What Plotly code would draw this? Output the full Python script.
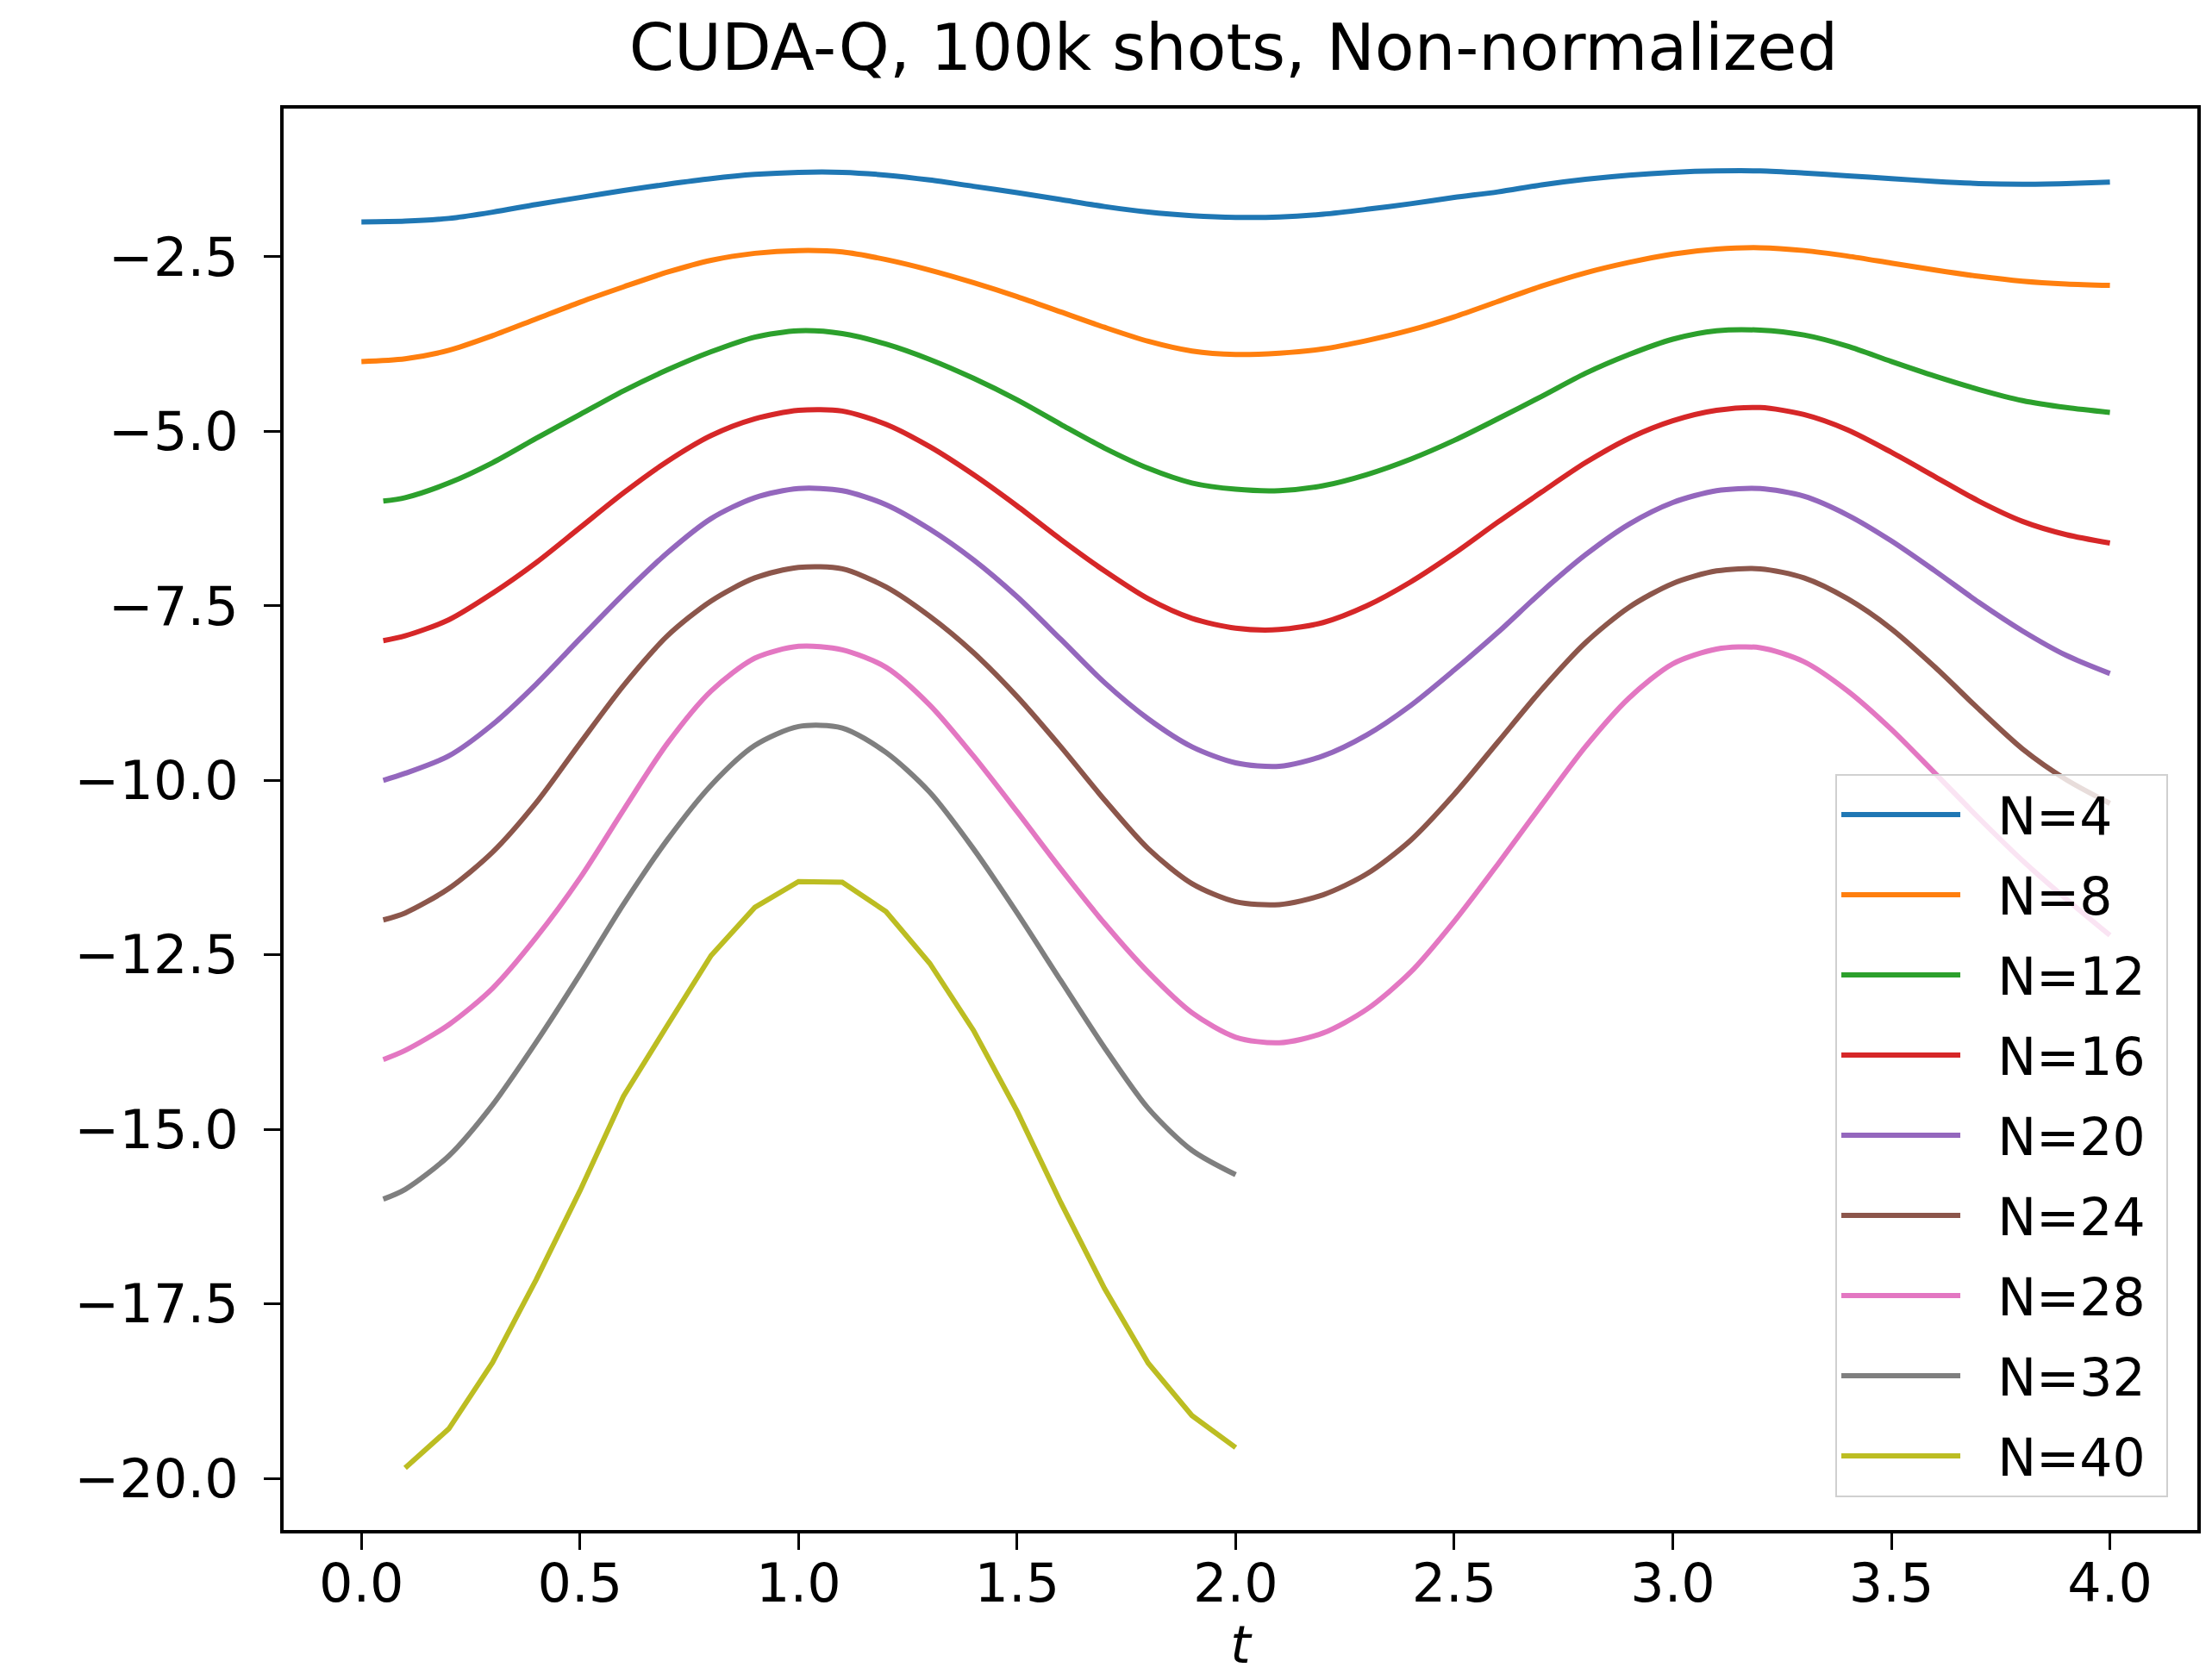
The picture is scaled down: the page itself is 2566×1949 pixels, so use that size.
import plotly.graph_objects as go

# ---- data ----
t_full = [round(0.1 * i, 1) for i in range(0, 41)]          # 0.0 .. 4.0
t_late = [0.05] + [round(0.1 * i, 1) for i in range(1, 41)]  # 0.05, 0.1 .. 4.0
t_half = [0.05] + [round(0.1 * i, 1) for i in range(1, 21)]  # 0.05, 0.1 .. 2.0
t_n40 = [round(0.1 * i, 1) for i in range(1, 21)]            # 0.1 .. 2.0

n4 = [-2.00, -1.99, -1.95, -1.86, -1.75, -1.65, -1.55, -1.46, -1.38, -1.32, -1.29,
      -1.29, -1.33, -1.40, -1.49, -1.58, -1.68, -1.78, -1.86, -1.91, -1.935,
      -1.93, -1.89, -1.82, -1.74, -1.65, -1.57, -1.47, -1.39, -1.33, -1.29,
      -1.27, -1.27, -1.30, -1.34, -1.38, -1.42, -1.45, -1.46, -1.45, -1.43]
n8 = [-4.00, -3.96, -3.84, -3.63, -3.39, -3.15, -2.93, -2.72, -2.55, -2.45, -2.41,
      -2.43, -2.54, -2.69, -2.87, -3.07, -3.29, -3.51, -3.71, -3.85, -3.90,
      -3.88, -3.82, -3.70, -3.55, -3.36, -3.14, -2.92, -2.73, -2.58, -2.46,
      -2.39, -2.37, -2.41, -2.49, -2.59, -2.69, -2.78, -2.85, -2.89, -2.91]
n12 = [-6.00, -5.95, -5.74, -5.45, -5.10, -4.76, -4.42, -4.12, -3.86, -3.65, -3.56,
       -3.60, -3.75, -3.97, -4.24, -4.55, -4.90, -5.24, -5.53, -5.74, -5.83,
       -5.85, -5.78, -5.62, -5.40, -5.13, -4.82, -4.50, -4.17, -3.90, -3.68,
       -3.56, -3.55, -3.62, -3.78, -4.00, -4.21, -4.40, -4.56, -4.66, -4.73]
n16 = [-8.00, -7.93, -7.70, -7.32, -6.88, -6.38, -5.88, -5.43, -5.06, -4.82, -4.70,
       -4.71, -4.90, -5.22, -5.62, -6.07, -6.55, -7.00, -7.40, -7.68, -7.82,
       -7.84, -7.74, -7.50, -7.16, -6.75, -6.30, -5.87, -5.45, -5.10, -4.85,
       -4.70, -4.66, -4.76, -4.98, -5.30, -5.65, -6.00, -6.29, -6.48, -6.60]
n20 = [-10.00, -9.90, -9.65, -9.20, -8.62, -7.97, -7.33, -6.74, -6.25, -5.95, -5.82,
       -5.85, -6.05, -6.40, -6.84, -7.37, -7.98, -8.60, -9.12, -9.52, -9.75,
       -9.80, -9.65, -9.35, -8.93, -8.42, -7.88, -7.30, -6.77, -6.33, -6.02,
       -5.85, -5.82, -5.93, -6.20, -6.57, -7.00, -7.45, -7.86, -8.21, -8.47]
n24 = [-12.00, -11.90, -11.55, -11.03, -10.32, -9.47, -8.64, -7.93, -7.43, -7.10, -6.95,
       -6.97, -7.23, -7.65, -8.17, -8.80, -9.52, -10.28, -10.98, -11.48, -11.74,
       -11.78, -11.64, -11.34, -10.86, -10.20, -9.45, -8.70, -8.03, -7.52, -7.18,
       -7.00, -6.97, -7.10, -7.40, -7.83, -8.38, -8.98, -9.55, -9.99, -10.33]
n28 = [-14.00, -13.87, -13.50, -12.98, -12.25, -11.40, -10.42, -9.47, -8.72, -8.25, -8.08,
       -8.13, -8.38, -8.92, -9.65, -10.45, -11.27, -12.05, -12.75, -13.33, -13.68,
       -13.76, -13.62, -13.28, -12.75, -12.02, -11.20, -10.35, -9.52, -8.82, -8.33,
       -8.12, -8.10, -8.30, -8.72, -9.27, -9.90, -10.54, -11.15, -11.70, -12.22]
n32 = [-16.00, -15.86, -15.38, -14.65, -13.75, -12.78, -11.77, -10.85, -10.07, -9.50, -9.23,
       -9.25, -9.60, -10.17, -10.98, -11.90, -12.87, -13.83, -14.70, -15.30, -15.65]
n40 = [-19.85, -19.29, -18.34, -17.15, -15.88, -14.52, -13.51, -12.51, -11.82, -11.45,
       -11.46, -11.88, -12.62, -13.58, -14.74, -16.05, -17.28, -18.35, -19.10, -19.56]

series_names = ["N=4", "N=8", "N=12", "N=16", "N=20", "N=24", "N=28", "N=32", "N=40"]
series_t = [t_full, t_full, t_late, t_late, t_late, t_late, t_late, t_half, t_n40]
series_v = [n4, n8, n12, n16, n20, n24, n28, n32, n40]
colors = ["#1f77b4", "#ff7f0e", "#2ca02c", "#d62728", "#9467bd",
          "#8c564b", "#e377c2", "#7f7f7f", "#bcbd22"]

x_tickvals = [0.0, 0.5, 1.0, 1.5, 2.0, 2.5, 3.0, 3.5, 4.0]
x_ticktext = ["0.0", "0.5", "1.0", "1.5", "2.0", "2.5", "3.0", "3.5", "4.0"]
y_tickvals = [-2.5, -5.0, -7.5, -10.0, -12.5, -15.0, -17.5, -20.0]
y_ticktext = ["\u22122.5", "\u22125.0", "\u22127.5", "\u221210.0", "\u221212.5",
              "\u221215.0", "\u221217.5", "\u221220.0"]

FONT = "DejaVu Sans"

fig = go.Figure()
for name, tt, vv, c in zip(series_names, series_t, series_v, colors):
    shape = "linear" if name == "N=40" else "spline"
    fig.add_trace(go.Scatter(
        x=tt, y=vv, mode="lines", name="\u00a0\u00a0" + name + "\u00a0", legendgroup=name,
        line=dict(color=c, width=6, shape=shape, smoothing=0.8),
    ))

axis_common = dict(
    showline=True, linecolor="black", linewidth=4, mirror=True,
    ticks="outside", ticklen=19, tickwidth=3, tickcolor="black",
    showgrid=False, zeroline=False,
    tickfont=dict(family=FONT, size=62, color="black"),
)

fig.update_layout(
    width=2566, height=1949,
    margin=dict(l=321, r=25, t=118, b=182),
    paper_bgcolor="white", plot_bgcolor="white",
    title=dict(text="CUDA-Q, 100k shots, Non-normalized",
               x=0.5545, xanchor="center", y=1 - 47 / 1949, yanchor="middle",
               font=dict(family=FONT, size=75, color="black")),
    xaxis=dict(range=[-0.178, 4.2], tickvals=x_tickvals, ticktext=x_ticktext,
               title=dict(text="<i>t</i>", font=dict(family=FONT, size=60, color="black"),
                          standoff=16),
               ticklabelstandoff=-14,
               **axis_common),
    yaxis=dict(range=[-20.74, -0.377], tickvals=y_tickvals, ticktext=y_ticktext,
               ticklabelstandoff=17,
               **axis_common),
    legend=dict(x=0.9847, y=0.0233, xanchor="right", yanchor="bottom",
                bgcolor="rgba(255,255,255,0.8)", bordercolor="#d0d0d0", borderwidth=2,
                font=dict(family=FONT, size=60, color="black"),
                tracegroupgap=12, itemwidth=138),
    showlegend=True,
)

fig.write_html("out.html")
